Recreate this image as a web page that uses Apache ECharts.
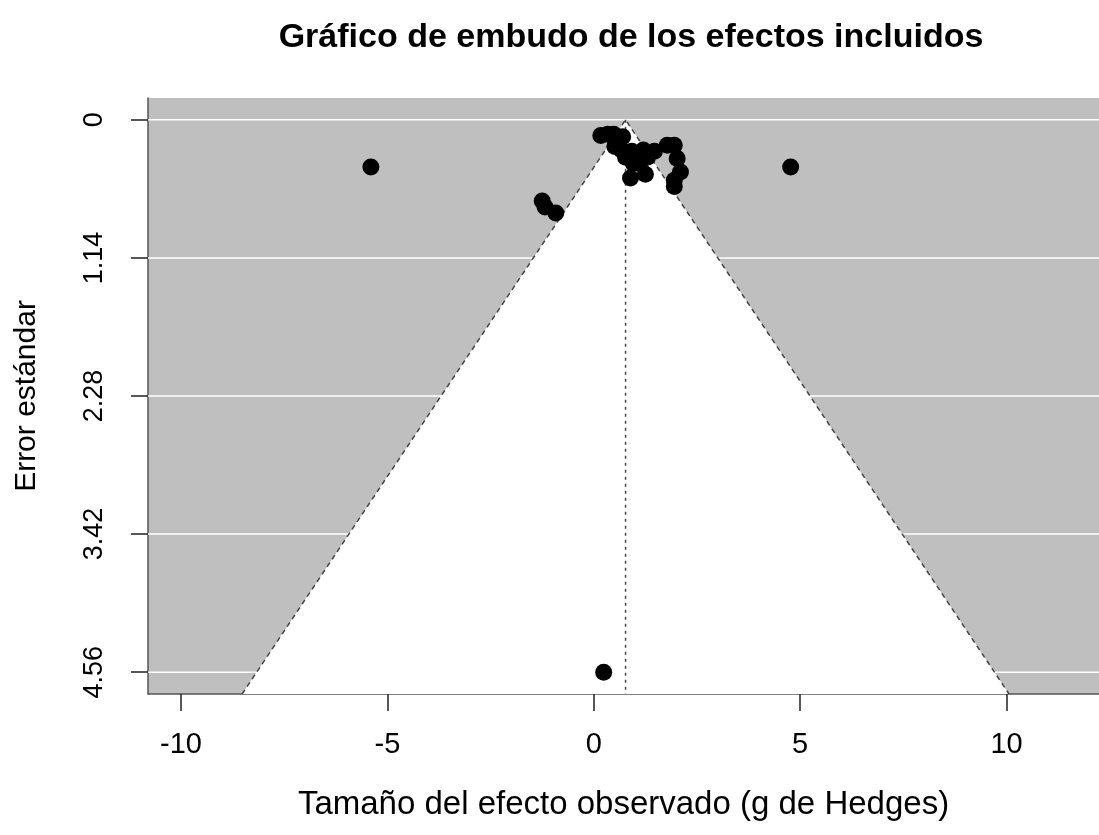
<!DOCTYPE html>
<html>
<head>
<meta charset="utf-8">
<script src="https://cdn.jsdelivr.net/npm/echarts@6/dist/echarts.min.js"></script>
<style>html,body{margin:0;padding:0;background:#fff;}#c{width:1099px;height:835px;}</style>
</head>
<body>
<div id="c"></div>
<script>
// Observed effect sizes (Hedges' g) and their standard errors
const effectSizes = [-5.40, 4.77, 0.24, -1.25, -1.18, -0.92,
  0.17, 0.34, 0.48, 0.70, 0.51, 0.67, 0.77, 0.92, 1.06, 0.89, 1.20, 1.25, 1.30, 1.47,
  1.11, 1.78, 1.95, 2.02, 2.10, 1.95, 1.95, 0.96, 0.58];
const standardErrors = [0.39, 0.39, 4.56, 0.67, 0.72, 0.77,
  0.13, 0.12, 0.12, 0.14, 0.22, 0.25, 0.31, 0.26, 0.31, 0.48, 0.25, 0.45, 0.31, 0.26,
  0.36, 0.21, 0.21, 0.32, 0.43, 0.50, 0.55, 0.36, 0.17];
const pooledEstimate = 0.77;
const zCrit = 1.96;
const xTicks = [-10, -5, 0, 5, 10];
const seTicks = [0, 1.14, 2.28, 3.42, 4.56];
const xRange = [-10.8, 12.24];
const seRange = [-0.18, 4.74];

const points = effectSizes.map((v, i) => [v, standardErrors[i]]);
const seMax = seRange[1];
const funnel = [[pooledEstimate - zCrit * seMax, seMax], [pooledEstimate, 0], [pooledEstimate + zCrit * seMax, seMax]];

const font = 'Liberation Sans, Arial, Helvetica, sans-serif';
const chart = echarts.init(document.getElementById('c'));
chart.setOption({
  animation: false,
  backgroundColor: '#ffffff',
  title: {
    text: 'Gráfico de embudo de los efectos incluidos',
    left: 626, top: 16, textAlign: 'center',
    textStyle: { fontFamily: font, fontSize: 34, fontWeight: 'bold', color: '#000' }
  },
  grid: { left: 148, top: 98, width: 956, bottom: 141, show: true, backgroundColor: '#bfbfbf', borderWidth: 0 },
  xAxis: {
    type: 'value', min: xRange[0], max: xRange[1],
    name: 'Tamaño del efecto observado (g de Hedges)', nameLocation: 'middle', nameGap: 94,
    nameTextStyle: { fontFamily: font, fontSize: 33, color: '#000' },
    axisLine: { show: true, onZero: false, lineStyle: { color: '#555', width: 1.5 } },
    axisTick: { show: true, length: 17, customValues: xTicks, lineStyle: { color: '#222', width: 1.5 } },
    axisLabel: { customValues: xTicks, margin: 36, fontFamily: font, fontSize: 29, color: '#000' },
    splitLine: { show: false }
  },
  yAxis: {
    type: 'value', inverse: true, min: seRange[0], max: seRange[1],
    name: 'Error estándar', nameLocation: 'middle', nameGap: 106, nameRotate: 90,
    nameTextStyle: { fontFamily: font, fontSize: 30, color: '#000' },
    axisLine: { show: true, onZero: false, lineStyle: { color: '#555', width: 1.5 } },
    axisTick: { show: true, length: 17, customValues: seTicks, lineStyle: { color: '#222', width: 1.5 } },
    axisLabel: { customValues: seTicks, rotate: 90, margin: 40, fontFamily: font, fontSize: 27, color: '#000',
      formatter: v => String(v) },
    splitLine: { show: false }
  },
  series: [
    {
      type: 'custom', z: 1, silent: true,
      data: seTicks,
      renderItem: (params, api) => {
        const v = api.value(0);
        const a = api.coord([xRange[0], v]);
        const b = api.coord([xRange[1], v]);
        return { type: 'line', shape: { x1: a[0], y1: a[1], x2: b[0], y2: b[1] }, style: { stroke: '#ffffff', lineWidth: 1.5 } };
      },
      encode: { y: 0 }
    },
    {
      type: 'custom', z: 2, silent: true,
      data: [[pooledEstimate, 0]],
      renderItem: (params, api) => {
        const pts = funnel.map(p => api.coord(p));
        return { type: 'polygon', shape: { points: pts }, style: { fill: '#ffffff' } };
      }
    },
    {
      type: 'line', z: 3, silent: true, symbol: 'none',
      data: funnel,
      lineStyle: { color: '#444', width: 1.5, type: [5, 4] }
    },
    {
      type: 'line', z: 3, silent: true, symbol: 'none',
      data: [[pooledEstimate, 0], [pooledEstimate, seMax]],
      lineStyle: { color: '#444', width: 1.5, type: [3, 4] }
    },
    {
      type: 'scatter', z: 4, symbolSize: 17,
      data: points,
      itemStyle: { color: '#000', opacity: 1 }
    }
  ]
});
</script>
</body>
</html>
